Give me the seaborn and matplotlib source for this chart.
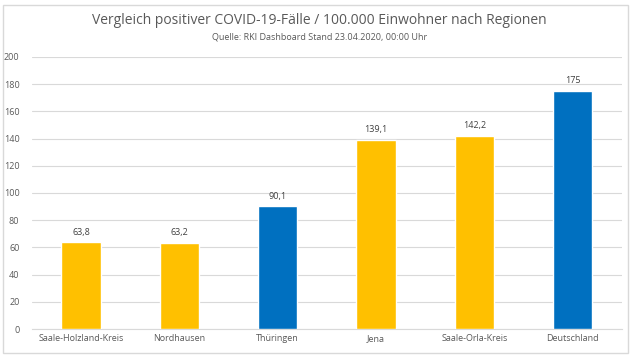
import matplotlib
matplotlib.use("Agg")
import matplotlib.pyplot as plt
import seaborn as sns
import pandas as pd
from matplotlib.patches import Rectangle


# ==========================================
# DATA
# ==========================================

regions = [
    "Saale-Holzland-Kreis",
    "Nordhausen",
    "Thüringen",
    "Jena",
    "Saale-Orla-Kreis",
    "Deutschland",
]

cases_per_100k = [63.8, 63.2, 90.1, 139.1, 142.2, 175.0]

value_labels = ["63,8", "63,2", "90,1", "139,1", "142,2", "175"]

bar_colors = ["#FFC000", "#FFC000", "#0070C0", "#FFC000", "#FFC000", "#0070C0"]

y_ticks = [0, 20, 40, 60, 80, 100, 120, 140, 160, 180, 200]


# ==========================================
# PLOT
# ==========================================

sns.set_style("white")
plt.rcParams["font.family"] = ["Open Sans", "DejaVu Sans"]

df = pd.DataFrame({"Region": regions, "Faelle": cases_per_100k})

fig = plt.figure(figsize=(6.39, 3.6), dpi=100)
fig.patch.set_facecolor("white")

fig.patches.append(
    Rectangle(
        (3 / 639, 1 - 353 / 360),
        625 / 639,
        348 / 360,
        transform=fig.transFigure,
        fill=False,
        edgecolor="#d9d9d9",
        linewidth=1,
    )
)

ax = fig.add_axes([0.05, 0.086, 0.923, 0.756])

sns.barplot(
    data=df,
    x="Region",
    y="Faelle",
    hue="Region",
    palette=bar_colors,
    saturation=1,
    width=0.4,
    legend=False,
    ax=ax,
    zorder=3,
)

for container, label in zip(ax.containers, value_labels):
    ax.bar_label(
        container,
        labels=[label],
        padding=4,
        fontsize=6.5,
        color="#404040",
    )

ax.set_ylim(0, 200)
ax.set_yticks(y_ticks)
ax.grid(axis="y", color="#d9d9d9", linewidth=0.8, zorder=0)

ax.set_xlabel("")
ax.set_ylabel("")

ax.tick_params(axis="both", length=0, labelsize=6.5, labelcolor="#595959")
ax.tick_params(axis="y", pad=9)

for side in ["top", "right", "left"]:
    ax.spines[side].set_visible(False)
ax.spines["bottom"].set_color("#d9d9d9")

fig.text(
    0.5, 1 - 21 / 360,
    "Vergleich positiver COVID-19-Fälle / 100.000 Einwohner nach Regionen",
    ha="center", va="center", fontsize=10, color="#595959",
)

fig.text(
    0.5, 1 - 37 / 360,
    "Quelle: RKI Dashboard Stand 23.04.2020, 00:00 Uhr",
    ha="center", va="center", fontsize=6.5, color="#595959",
)

fig.savefig("out.png", dpi=100)
